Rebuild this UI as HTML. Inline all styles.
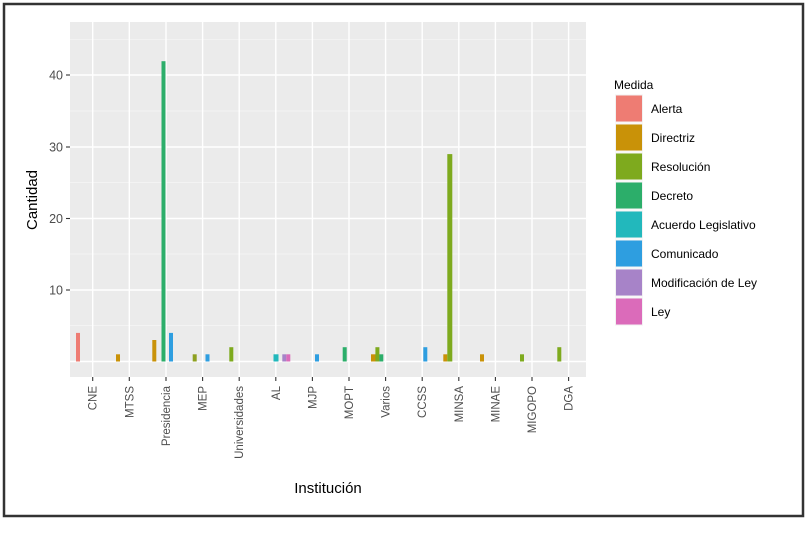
<!DOCTYPE html>
<html><head><meta charset="utf-8"><style>
html,body{margin:0;padding:0;background:#fff}
svg{display:block;font-family:"Liberation Sans",sans-serif}
</style></head><body>
<svg width="807" height="545" xmlns="http://www.w3.org/2000/svg">
<rect x="0" y="0" width="807" height="545" fill="#fff"/>
<rect x="4" y="4" width="799" height="512" fill="none" stroke="#333" stroke-width="2.5"/>
<rect x="70" y="22" width="516" height="355" fill="#ebebeb"/>
<g stroke="#f6f6f6" stroke-width="0.7">
<line x1="70" x2="586" y1="39.3" y2="39.3"/><line x1="70" x2="586" y1="111" y2="111"/>
<line x1="70" x2="586" y1="182.5" y2="182.5"/><line x1="70" x2="586" y1="254" y2="254"/>
<line x1="70" x2="586" y1="325.5" y2="325.5"/>
</g>
<g stroke="#fff" stroke-width="1.4">
<line x1="70" x2="586" y1="75" y2="75"/><line x1="70" x2="586" y1="147" y2="147"/>
<line x1="70" x2="586" y1="218.5" y2="218.5"/><line x1="70" x2="586" y1="290" y2="290"/>
<line x1="70" x2="586" y1="361.5" y2="361.5"/>
<line x1="92.7" x2="92.7" y1="22" y2="377"/><line x1="129.3" x2="129.3" y1="22" y2="377"/>
<line x1="166" x2="166" y1="22" y2="377"/><line x1="202.6" x2="202.6" y1="22" y2="377"/>
<line x1="239.2" x2="239.2" y1="22" y2="377"/><line x1="275.8" x2="275.8" y1="22" y2="377"/>
<line x1="312.4" x2="312.4" y1="22" y2="377"/><line x1="349" x2="349" y1="22" y2="377"/>
<line x1="385.6" x2="385.6" y1="22" y2="377"/><line x1="422.2" x2="422.2" y1="22" y2="377"/>
<line x1="458.8" x2="458.8" y1="22" y2="377"/><line x1="495.4" x2="495.4" y1="22" y2="377"/>
<line x1="532" x2="532" y1="22" y2="377"/><line x1="568.6" x2="568.6" y1="22" y2="377"/>
</g>
<!-- bars -->
<g>
<rect x="76" y="332.9" width="4" height="28.6" fill="#EE7C73"/>
<rect x="116" y="354.3" width="4" height="7.2" fill="#C99208"/>
<rect x="152.3" y="340" width="4" height="21.5" fill="#C99208"/>
<rect x="161.5" y="61.2" width="4" height="300.3" fill="#2CAE6A"/>
<rect x="169" y="332.9" width="4" height="28.6" fill="#2E9EE0"/>
<rect x="192.7" y="354.3" width="4" height="7.2" fill="#8EA020"/>
<rect x="205.5" y="354.3" width="4" height="7.2" fill="#2E9EE0"/>
<rect x="229.3" y="347.2" width="4" height="14.3" fill="#7EAA1E"/>
<rect x="273.5" y="354.3" width="5" height="7.2" fill="#22B8BC"/>
<rect x="282.3" y="354.3" width="4" height="7.2" fill="#A783C8"/>
<rect x="286.3" y="354.3" width="4" height="7.2" fill="#DB6BBA"/>
<rect x="315" y="354.3" width="4" height="7.2" fill="#2E9EE0"/>
<rect x="342.7" y="347.2" width="4" height="14.3" fill="#2CAE6A"/>
<rect x="371" y="354.3" width="4.5" height="7.2" fill="#C99208"/>
<rect x="375.4" y="347.2" width="4" height="14.3" fill="#7EAA1E"/>
<rect x="379.3" y="354.3" width="4" height="7.2" fill="#2CAE6A"/>
<rect x="423.3" y="347.2" width="4" height="14.3" fill="#2E9EE0"/>
<rect x="443.3" y="354.3" width="4" height="7.2" fill="#C99208"/>
<rect x="447.3" y="154.1" width="5" height="207.4" fill="#7EAA1E"/>
<rect x="480" y="354.3" width="4" height="7.2" fill="#C99208"/>
<rect x="520" y="354.3" width="4" height="7.2" fill="#7EAA1E"/>
<rect x="557.3" y="347.2" width="4" height="14.3" fill="#7EAA1E"/>
</g>
<!-- y axis -->
<g stroke="#333" stroke-width="1.1">
<line x1="66" x2="70" y1="75" y2="75"/><line x1="66" x2="70" y1="147" y2="147"/>
<line x1="66" x2="70" y1="218.5" y2="218.5"/><line x1="66" x2="70" y1="290" y2="290"/>
</g>
<g font-size="12.5" fill="#4d4d4d" text-anchor="end">
<text x="63" y="79.5">40</text><text x="63" y="151.5">30</text>
<text x="63" y="223">20</text><text x="63" y="294.5">10</text>
</g>
<text transform="translate(37,200) rotate(-90)" font-size="15" text-anchor="middle" fill="#000">Cantidad</text>
<!-- x axis -->
<g stroke="#333" stroke-width="1.1">
<line x1="92.7" x2="92.7" y1="377" y2="381"/><line x1="129.3" x2="129.3" y1="377" y2="381"/>
<line x1="166" x2="166" y1="377" y2="381"/><line x1="202.6" x2="202.6" y1="377" y2="381"/>
<line x1="239.2" x2="239.2" y1="377" y2="381"/><line x1="275.8" x2="275.8" y1="377" y2="381"/>
<line x1="312.4" x2="312.4" y1="377" y2="381"/><line x1="349" x2="349" y1="377" y2="381"/>
<line x1="385.6" x2="385.6" y1="377" y2="381"/><line x1="422.2" x2="422.2" y1="377" y2="381"/>
<line x1="458.8" x2="458.8" y1="377" y2="381"/><line x1="495.4" x2="495.4" y1="377" y2="381"/>
<line x1="532" x2="532" y1="377" y2="381"/><line x1="568.6" x2="568.6" y1="377" y2="381"/>
</g>
<g font-size="11.5" fill="#4d4d4d" text-anchor="end">
<text transform="translate(96.7,386) rotate(-90)">CNE</text>
<text transform="translate(133.3,386) rotate(-90)">MTSS</text>
<text transform="translate(170,386) rotate(-90)">Presidencia</text>
<text transform="translate(206.6,386) rotate(-90)">MEP</text>
<text transform="translate(243.2,386) rotate(-90)">Universidades</text>
<text transform="translate(279.8,386) rotate(-90)">AL</text>
<text transform="translate(316.4,386) rotate(-90)">MJP</text>
<text transform="translate(353,386) rotate(-90)">MOPT</text>
<text transform="translate(389.6,386) rotate(-90)">Varios</text>
<text transform="translate(426.2,386) rotate(-90)">CCSS</text>
<text transform="translate(462.8,386) rotate(-90)">MINSA</text>
<text transform="translate(499.4,386) rotate(-90)">MINAE</text>
<text transform="translate(536,386) rotate(-90)">MIGOPO</text>
<text transform="translate(572.6,386) rotate(-90)">DGA</text>
</g>
<text x="328" y="493" font-size="15" text-anchor="middle" fill="#000">Institución</text>
<!-- legend -->
<text x="614" y="89" font-size="12" fill="#000">Medida</text>
<g stroke="#f2f2f2" stroke-width="1">
<rect x="615.5" y="95" width="27" height="27" fill="#EE7C73"/>
<rect x="615.5" y="124" width="27" height="27" fill="#C99208"/>
<rect x="615.5" y="153" width="27" height="27" fill="#7EAA1E"/>
<rect x="615.5" y="182" width="27" height="27" fill="#2CAE6A"/>
<rect x="615.5" y="211" width="27" height="27" fill="#22B8BC"/>
<rect x="615.5" y="240" width="27" height="27" fill="#2E9EE0"/>
<rect x="615.5" y="269" width="27" height="27" fill="#A783C8"/>
<rect x="615.5" y="298" width="27" height="27" fill="#DB6BBA"/>
</g>
<g font-size="12" fill="#000">
<text x="651" y="113">Alerta</text>
<text x="651" y="142">Directriz</text>
<text x="651" y="171">Resolución</text>
<text x="651" y="200">Decreto</text>
<text x="651" y="229">Acuerdo Legislativo</text>
<text x="651" y="258">Comunicado</text>
<text x="651" y="287">Modificación de Ley</text>
<text x="651" y="316">Ley</text>
</g>
</svg>
</body></html>
